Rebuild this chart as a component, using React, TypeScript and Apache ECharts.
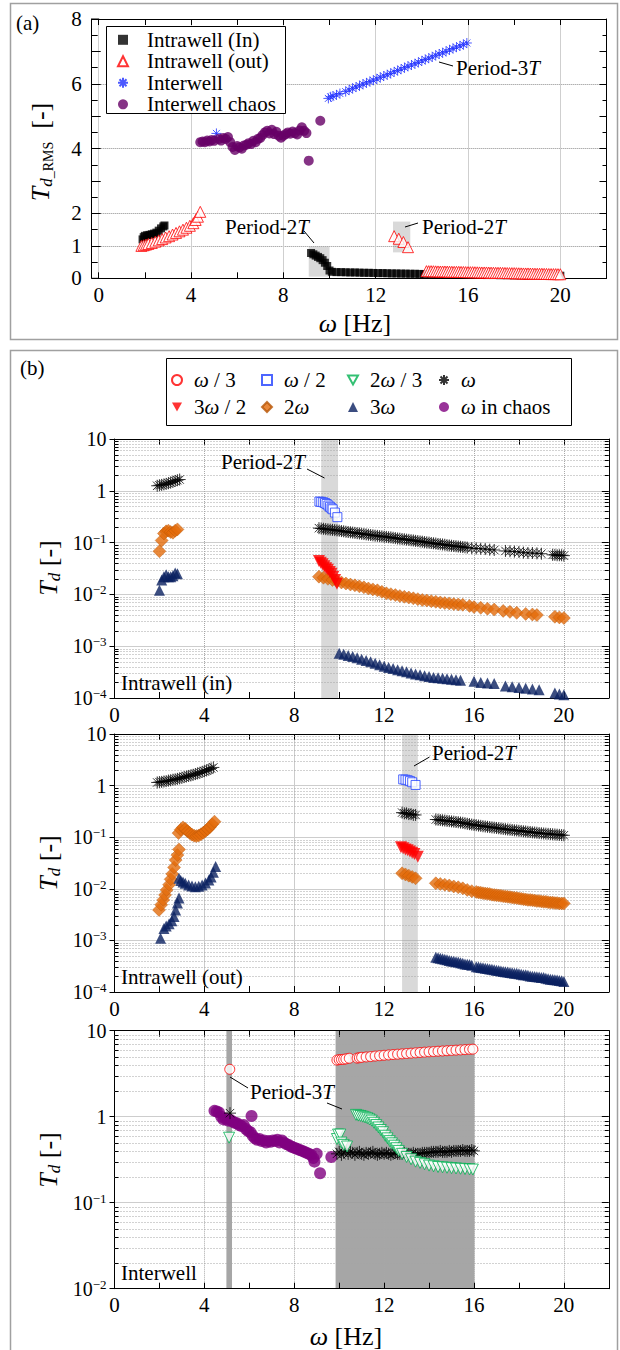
import React, { useEffect, useRef } from "react";
import * as echarts from "echarts";

const FONT = "Liberation Serif, Times New Roman, serif";

// ---------------- Panel (a): T_d_RMS vs ω ----------------
const aIntrawellIn: number[][] = [
  [1.9, 1.2], [1.95, 1.27], [2.0, 1.31], [2.1, 1.33], [2.2, 1.34], [2.3, 1.36], [2.4, 1.38], [2.5, 1.41],
  [2.6, 1.47], [2.7, 1.54], [2.8, 1.6], [2.85, 1.63],
  [9.2, 0.78], [9.3, 0.74], [9.4, 0.7], [9.5, 0.66], [9.6, 0.62], [9.7, 0.56], [9.8, 0.48], [9.9, 0.38],
  [10.0, 0.24], [10.1, 0.2], [10.3, 0.19], [10.5, 0.19], [10.7, 0.185], [10.9, 0.18], [11.1, 0.18],
  [11.3, 0.175], [11.5, 0.17], [11.7, 0.17], [11.9, 0.165], [12.1, 0.16], [12.3, 0.16], [12.5, 0.155],
  [12.7, 0.15], [12.9, 0.15], [13.1, 0.145], [13.3, 0.145], [13.5, 0.14], [13.7, 0.14], [13.9, 0.135],
  [14.1, 0.13], [14.4, 0.13], [14.7, 0.125], [15.0, 0.12], [15.3, 0.12], [15.6, 0.115], [15.9, 0.11],
  [16.2, 0.11], [16.5, 0.105], [16.8, 0.1], [17.1, 0.1], [17.4, 0.095], [17.7, 0.095], [18.0, 0.09],
  [18.3, 0.09], [18.6, 0.088], [18.9, 0.085], [19.2, 0.085], [19.5, 0.082], [19.8, 0.08], [20.0, 0.08],
];
const aIntrawellOut: number[][] = [
  [1.85, 1.0], [1.95, 1.02], [2.05, 1.04], [2.15, 1.06], [2.3, 1.09], [2.45, 1.13], [2.6, 1.17], [2.75, 1.21],
  [2.9, 1.26], [3.05, 1.3], [3.2, 1.35], [3.35, 1.4], [3.5, 1.45], [3.65, 1.5], [3.8, 1.56], [3.95, 1.62],
  [4.1, 1.7], [4.2, 1.8], [4.3, 1.9], [4.4, 2.05],
  [12.8, 1.3], [13.0, 1.22], [13.2, 1.12], [13.4, 0.96],
  [14.2, 0.22], [14.3, 0.22], [14.4, 0.22], [14.5, 0.218], [14.6, 0.215], [14.7, 0.212], [14.8, 0.21],
  [14.9, 0.21], [15.0, 0.21], [15.1, 0.207], [15.2, 0.205], [15.3, 0.202], [15.4, 0.2], [15.5, 0.2],
  [15.6, 0.2], [15.7, 0.197], [15.8, 0.195], [15.9, 0.192], [16.0, 0.19], [16.1, 0.19], [16.2, 0.19],
  [16.3, 0.187], [16.4, 0.185], [16.5, 0.182], [16.6, 0.18], [16.7, 0.18], [16.8, 0.18], [16.9, 0.177],
  [17.0, 0.175], [17.1, 0.172], [17.2, 0.17], [17.3, 0.17], [17.4, 0.17], [17.5, 0.167], [17.6, 0.165],
  [17.7, 0.162], [17.8, 0.16], [17.9, 0.16], [18.0, 0.16], [18.1, 0.157], [18.2, 0.155], [18.3, 0.152],
  [18.4, 0.15], [18.5, 0.15], [18.6, 0.15], [18.7, 0.147], [18.8, 0.145], [18.9, 0.142], [19.0, 0.14],
  [19.1, 0.14], [19.2, 0.14], [19.3, 0.137], [19.4, 0.135], [19.5, 0.132], [19.6, 0.13], [19.7, 0.13],
  [19.8, 0.13], [19.9, 0.127], [20.0, 0.125],
];
const aInterwell: number[][] = [
  [5.1, 4.47],
  [9.95, 5.55], [10.05, 5.6], [10.15, 5.62], [10.3, 5.66], [10.45, 5.7], [10.7, 5.76], [10.85, 5.81],
  [11.0, 5.86], [11.15, 5.9], [11.3, 5.94], [11.45, 5.99], [11.6, 6.03], [11.75, 6.07], [11.9, 6.11],
  [12.05, 6.15], [12.2, 6.2], [12.35, 6.24], [12.5, 6.28], [12.65, 6.32], [12.8, 6.37], [12.95, 6.41],
  [13.1, 6.45], [13.25, 6.5], [13.4, 6.54], [13.55, 6.58], [13.7, 6.62], [13.85, 6.66], [14.0, 6.71],
  [14.15, 6.75], [14.3, 6.79], [14.45, 6.83], [14.6, 6.88], [14.75, 6.92], [14.9, 6.96], [15.05, 7.0],
  [15.2, 7.05], [15.35, 7.09], [15.5, 7.13], [15.65, 7.17], [15.8, 7.21], [15.95, 7.26],
];
const aInterwellChaos: number[][] = [
  [4.4, 4.2], [4.5, 4.22], [4.6, 4.2], [4.7, 4.25], [4.8, 4.22], [4.9, 4.27], [5.0, 4.24], [5.2, 4.3],
  [5.3, 4.25], [5.4, 4.33], [5.5, 4.3], [5.6, 4.36], [5.7, 4.2], [5.8, 4.05], [5.9, 3.96], [6.0, 4.08],
  [6.1, 4.04], [6.2, 4.0], [6.3, 4.1], [6.4, 4.12], [6.5, 4.17], [6.6, 4.14], [6.7, 4.24], [6.8, 4.2],
  [6.9, 4.3], [7.0, 4.33], [7.1, 4.42], [7.2, 4.5], [7.3, 4.55], [7.4, 4.47], [7.5, 4.58], [7.6, 4.45],
  [7.7, 4.52], [7.8, 4.4], [7.9, 4.34], [8.0, 4.4], [8.1, 4.45], [8.2, 4.5], [8.3, 4.46], [8.4, 4.53],
  [8.5, 4.48], [8.6, 4.44], [8.7, 4.56], [8.8, 4.66], [8.9, 4.55], [9.0, 4.48], [9.1, 3.63], [9.6, 4.86],
];
// shaded windows [ω0, ω1, T0, T1]
const aShade: number[][] = [[9.1, 10.0, 0.05, 0.98], [12.75, 13.5, 0.8, 1.75]];

// ---------------- Panel (b1): Intrawell (in) ----------------
const b1Omega: number[][] = [
  [1.9, 1.25], [2.0, 1.28], [2.1, 1.3], [2.2, 1.33], [2.3, 1.36], [2.4, 1.4], [2.5, 1.44], [2.6, 1.5],
  [2.7, 1.55], [2.8, 1.6], [2.9, 1.65],
  [9.1, 0.19], [9.2, 0.187], [9.3, 0.185], [9.4, 0.182], [9.5, 0.18], [9.6, 0.178], [9.7, 0.176], [9.8, 0.174],
  [9.9, 0.172], [10.0, 0.17], [10.1, 0.167], [10.2, 0.165], [10.3, 0.162], [10.4, 0.16], [10.5, 0.158],
  [10.6, 0.156], [10.7, 0.154], [10.8, 0.152], [10.9, 0.15], [11.0, 0.148], [11.1, 0.146], [11.2, 0.144],
  [11.3, 0.142], [11.4, 0.14], [11.5, 0.138], [11.6, 0.136], [11.7, 0.135], [11.8, 0.133], [11.9, 0.132],
  [12.0, 0.13], [12.1, 0.129], [12.2, 0.127], [12.3, 0.126], [12.4, 0.124], [12.5, 0.122], [12.6, 0.12],
  [12.7, 0.119], [12.8, 0.117], [12.9, 0.116], [13.0, 0.114], [13.1, 0.113], [13.2, 0.111], [13.3, 0.11],
  [13.4, 0.108], [13.5, 0.107], [13.6, 0.105], [13.7, 0.104], [13.8, 0.102], [13.9, 0.101], [14.0, 0.1],
  [14.1, 0.098], [14.2, 0.097], [14.3, 0.096], [14.4, 0.094], [14.5, 0.093], [14.6, 0.092], [14.7, 0.091],
  [14.8, 0.089], [14.9, 0.088], [15.0, 0.087], [15.1, 0.086], [15.2, 0.085], [15.3, 0.084], [15.4, 0.083],
  [15.5, 0.082], [15.6, 0.081], [15.7, 0.08], [15.9, 0.078], [16.1, 0.077], [16.3, 0.076], [16.5, 0.075],
  [16.7, 0.073], [16.9, 0.072], [17.4, 0.069], [17.6, 0.068], [17.8, 0.067], [18.0, 0.066], [18.2, 0.064],
  [18.4, 0.063], [18.6, 0.063], [18.8, 0.062], [19.0, 0.061], [19.5, 0.058], [19.6, 0.058], [19.7, 0.057],
  [19.8, 0.057], [19.9, 0.057], [20.0, 0.056],
];
const b1Half: number[][] = [
  [9.12, 0.62], [9.2, 0.61], [9.29, 0.6], [9.37, 0.58], [9.44, 0.556], [9.52, 0.52], [9.59, 0.49],
  [9.66, 0.46], [9.71, 0.44], [9.81, 0.38], [9.92, 0.31],
];
const b1ThreeHalf: number[][] = [
  [9.1, 0.044], [9.18, 0.041], [9.26, 0.038], [9.34, 0.035], [9.42, 0.032], [9.5, 0.03], [9.58, 0.027],
  [9.66, 0.025], [9.74, 0.022], [9.82, 0.019], [9.9, 0.016],
];
const b1Two: number[][] = [
  [2.0, 0.068], [2.1, 0.11], [2.2, 0.15], [2.3, 0.165], [2.4, 0.17], [2.5, 0.16], [2.6, 0.155], [2.7, 0.17], [2.8, 0.18],
  [9.1, 0.022], [9.3, 0.021], [9.5, 0.02], [9.7, 0.019], [9.9, 0.018], [10.1, 0.017], [10.3, 0.0162],
  [10.5, 0.0155], [10.7, 0.015], [10.9, 0.0143], [11.1, 0.0137], [11.3, 0.013], [11.5, 0.0125], [11.7, 0.012],
  [11.9, 0.0112], [12.1, 0.0105], [12.3, 0.0101], [12.5, 0.0097], [12.7, 0.0093], [12.9, 0.009], [13.1, 0.0087],
  [13.3, 0.0084], [13.5, 0.0081], [13.7, 0.0078], [13.9, 0.0076], [14.1, 0.0074], [14.3, 0.0072], [14.5, 0.007],
  [14.7, 0.0068], [14.9, 0.0067], [15.1, 0.0065], [15.3, 0.0064], [15.5, 0.0063], [15.8, 0.006], [16.0, 0.0057],
  [16.3, 0.0055], [16.6, 0.0053], [16.9, 0.0051], [17.3, 0.0048], [17.6, 0.0046], [17.9, 0.0044], [18.3, 0.0042],
  [18.6, 0.0041], [18.8, 0.004], [19.6, 0.0037], [19.8, 0.0036], [20.0, 0.0035],
];
const b1Three: number[][] = [
  [2.0, 0.012], [2.1, 0.019], [2.2, 0.022], [2.3, 0.024], [2.4, 0.022], [2.5, 0.022], [2.6, 0.023], [2.7, 0.026], [2.8, 0.025],
  [10.0, 7.3e-4], [10.2, 7.0e-4], [10.4, 6.6e-4], [10.6, 6.3e-4], [10.8, 6.0e-4], [11.0, 5.6e-4], [11.2, 5.3e-4],
  [11.4, 5.0e-4], [11.6, 4.7e-4], [11.8, 4.4e-4], [12.0, 4.1e-4], [12.2, 3.9e-4], [12.4, 3.7e-4], [12.6, 3.5e-4],
  [12.8, 3.35e-4], [13.0, 3.2e-4], [13.2, 3.05e-4], [13.4, 2.9e-4], [13.6, 2.8e-4], [13.8, 2.7e-4], [14.0, 2.6e-4],
  [14.2, 2.5e-4], [14.4, 2.45e-4], [14.6, 2.4e-4], [14.8, 2.35e-4], [15.0, 2.3e-4], [15.2, 2.25e-4], [15.4, 2.2e-4],
  [16.0, 2.1e-4], [16.3, 2.0e-4], [16.6, 1.95e-4], [16.9, 1.9e-4], [17.4, 1.7e-4], [17.7, 1.65e-4], [18.0, 1.6e-4],
  [18.3, 1.55e-4], [18.6, 1.5e-4], [18.9, 1.45e-4], [19.6, 1.25e-4], [19.8, 1.2e-4], [20.0, 1.15e-4],
];
const b1Shade: number[][] = [[9.2, 9.95, 1e-4, 10]];

// ---------------- Panel (b2): Intrawell (out) ----------------
const b2Omega: number[][] = [
  [1.9, 1.15], [2.0, 1.17], [2.1, 1.18], [2.2, 1.2], [2.3, 1.22], [2.4, 1.25], [2.5, 1.27], [2.6, 1.3],
  [2.7, 1.32], [2.8, 1.35], [2.9, 1.38], [3.0, 1.42], [3.1, 1.46], [3.2, 1.5], [3.3, 1.54], [3.4, 1.58],
  [3.5, 1.62], [3.6, 1.67], [3.7, 1.72], [3.8, 1.78], [3.9, 1.84], [4.0, 1.9], [4.1, 1.97], [4.2, 2.05],
  [4.3, 2.15], [4.4, 2.25],
  [12.8, 0.3], [12.9, 0.29], [13.0, 0.29], [13.1, 0.28], [13.2, 0.28], [13.3, 0.27], [13.4, 0.27],
  [14.3, 0.22], [14.4, 0.218], [14.5, 0.215], [14.6, 0.212], [14.7, 0.21], [14.8, 0.207], [14.9, 0.205],
  [15.0, 0.202], [15.1, 0.2], [15.2, 0.197], [15.3, 0.195], [15.4, 0.192], [15.5, 0.19], [15.6, 0.186],
  [15.7, 0.182], [15.8, 0.179], [15.9, 0.176], [16.0, 0.173], [16.1, 0.171], [16.2, 0.168], [16.3, 0.166],
  [16.4, 0.163], [16.5, 0.161], [16.6, 0.159], [16.7, 0.157], [16.8, 0.155], [16.9, 0.153], [17.0, 0.151],
  [17.1, 0.149], [17.2, 0.147], [17.3, 0.145], [17.4, 0.143], [17.5, 0.141], [17.6, 0.14], [17.7, 0.138],
  [17.8, 0.136], [17.9, 0.135], [18.0, 0.133], [18.1, 0.132], [18.2, 0.13], [18.3, 0.129], [18.4, 0.127],
  [18.5, 0.126], [18.6, 0.124], [18.7, 0.123], [18.8, 0.122], [18.9, 0.12], [19.0, 0.119], [19.1, 0.118],
  [19.2, 0.117], [19.3, 0.116], [19.4, 0.115], [19.5, 0.114], [19.6, 0.113], [19.7, 0.112], [19.8, 0.111],
  [19.9, 0.11], [20.0, 0.109],
];
const b2Half: number[][] = [[12.85, 1.32], [12.95, 1.3], [13.05, 1.27], [13.15, 1.22], [13.25, 1.16], [13.4, 1.03]];
const b2ThreeHalf: number[][] = [
  [12.75, 0.064], [12.85, 0.061], [12.95, 0.058], [13.05, 0.056], [13.15, 0.053], [13.25, 0.05], [13.35, 0.047], [13.5, 0.042],
];
const b2Two: number[][] = [
  [1.98, 0.0039], [2.08, 0.0049], [2.17, 0.0061], [2.25, 0.0076], [2.32, 0.0095], [2.43, 0.012], [2.5, 0.0153],
  [2.57, 0.0194], [2.65, 0.026], [2.72, 0.036], [2.8, 0.045], [2.87, 0.058],
  [2.85, 0.12], [2.95, 0.14], [3.05, 0.155], [3.15, 0.145], [3.25, 0.13], [3.35, 0.12], [3.45, 0.112], [3.55, 0.107],
  [3.65, 0.105], [3.75, 0.108], [3.85, 0.114], [3.95, 0.122], [4.05, 0.132], [4.15, 0.143], [4.25, 0.158],
  [4.35, 0.178], [4.45, 0.2],
  [12.8, 0.02], [12.95, 0.019], [13.1, 0.018], [13.25, 0.017], [13.4, 0.016],
  [14.3, 0.0128], [14.5, 0.0124], [14.7, 0.012], [14.9, 0.0116], [15.1, 0.0111], [15.3, 0.0107], [15.5, 0.0102],
  [15.7, 0.0095], [15.9, 0.009], [16.1, 0.0087], [16.2, 0.0085], [16.3, 0.0084], [16.4, 0.0082], [16.5, 0.0081],
  [16.6, 0.008], [16.7, 0.0079], [16.8, 0.0077], [16.9, 0.0076], [17.0, 0.0075], [17.1, 0.0074], [17.2, 0.0073],
  [17.3, 0.0072], [17.4, 0.0071], [17.5, 0.007], [17.6, 0.0069], [17.7, 0.0068], [17.8, 0.0067], [17.9, 0.0066],
  [18.0, 0.0065], [18.1, 0.0064], [18.2, 0.0063], [18.3, 0.0062], [18.4, 0.0061], [18.5, 0.0061], [18.6, 0.006],
  [18.7, 0.0059], [18.8, 0.0058], [18.9, 0.0058], [19.0, 0.0057], [19.1, 0.0056], [19.2, 0.0056], [19.3, 0.0055],
  [19.4, 0.0054], [19.5, 0.0054], [19.6, 0.0053], [19.7, 0.0053], [19.8, 0.0052], [19.9, 0.0052], [20.0, 0.0052],
];
const b2Three: number[][] = [
  [2.05, 0.0011], [2.2, 0.0017], [2.3, 0.0019], [2.43, 0.0021], [2.55, 0.0024], [2.65, 0.0029], [2.72, 0.0039],
  [2.8, 0.0053], [2.87, 0.0066],
  [2.87, 0.016], [2.95, 0.0145], [3.05, 0.0135], [3.15, 0.0128], [3.3, 0.0118], [3.45, 0.0113], [3.6, 0.011],
  [3.75, 0.0112], [3.9, 0.0118], [4.05, 0.013], [4.2, 0.0148], [4.3, 0.017], [4.4, 0.021], [4.5, 0.027],
  [14.3, 4.7e-4], [14.4, 4.6e-4], [14.5, 4.5e-4], [14.6, 4.4e-4], [14.7, 4.3e-4], [14.8, 4.2e-4], [14.9, 4.1e-4],
  [15.0, 4.0e-4], [15.1, 3.95e-4], [15.2, 3.85e-4], [15.3, 3.8e-4], [15.4, 3.7e-4], [15.5, 3.6e-4], [15.6, 3.5e-4],
  [15.7, 3.45e-4], [15.8, 3.4e-4], [15.9, 3.3e-4], [16.1, 3.1e-4], [16.2, 3.05e-4], [16.3, 3.0e-4], [16.4, 2.95e-4],
  [16.5, 2.9e-4], [16.6, 2.85e-4], [16.7, 2.8e-4], [16.8, 2.75e-4], [16.9, 2.7e-4], [17.0, 2.65e-4], [17.1, 2.6e-4],
  [17.2, 2.55e-4], [17.3, 2.5e-4], [17.4, 2.47e-4], [17.5, 2.45e-4], [17.6, 2.4e-4], [17.7, 2.35e-4], [17.8, 2.32e-4],
  [17.9, 2.3e-4], [18.0, 2.25e-4], [18.1, 2.2e-4], [18.2, 2.17e-4], [18.3, 2.15e-4], [18.4, 2.1e-4], [18.5, 2.05e-4],
  [18.6, 2.02e-4], [18.7, 2.0e-4], [18.8, 1.97e-4], [18.9, 1.95e-4], [19.0, 1.92e-4], [19.1, 1.9e-4], [19.2, 1.85e-4],
  [19.3, 1.8e-4], [19.4, 1.77e-4], [19.5, 1.75e-4], [19.6, 1.72e-4], [19.7, 1.7e-4], [19.8, 1.67e-4], [19.9, 1.65e-4],
  [20.0, 1.6e-4],
];
const b2Shade: number[][] = [[12.8, 13.5, 1e-4, 10]];

// ---------------- Panel (b3): Interwell ----------------
const b3Third: number[][] = [
  [5.13, 3.56],
  [9.9, 4.55], [10.0, 4.6], [10.1, 4.62], [10.2, 4.65], [10.3, 4.7], [10.45, 4.78], [10.8, 4.8], [10.9, 4.85],
  [11.0, 4.9], [11.2, 4.95], [11.4, 5.0], [11.6, 5.07], [11.8, 5.12], [12.0, 5.18], [12.2, 5.23], [12.4, 5.28],
  [12.6, 5.33], [12.8, 5.38], [13.0, 5.43], [13.2, 5.48], [13.4, 5.53], [13.6, 5.58], [13.8, 5.63], [14.0, 5.68],
  [14.2, 5.72], [14.4, 5.77], [14.6, 5.81], [14.8, 5.85], [15.0, 5.9], [15.2, 5.94], [15.4, 5.98], [15.6, 6.02],
  [15.8, 6.07], [15.95, 6.1],
];
const b3TwoThird: number[][] = [
  [5.1, 0.57], [9.9, 0.55], [9.95, 0.62], [10.05, 0.62], [10.1, 0.5], [10.2, 0.47], [10.35, 0.45],
  [10.75, 1.05], [10.85, 1.03], [10.95, 1.02], [11.05, 1.0], [11.15, 0.98], [11.25, 0.96], [11.35, 0.93],
  [11.45, 0.9], [11.55, 0.85], [11.65, 0.8], [11.75, 0.75], [11.85, 0.7], [11.95, 0.66], [12.05, 0.6],
  [12.15, 0.56], [12.25, 0.52], [12.35, 0.49], [12.45, 0.46], [12.55, 0.43], [12.65, 0.4], [12.8, 0.37],
  [13.0, 0.34], [13.2, 0.32], [13.4, 0.3], [13.6, 0.29], [13.8, 0.28], [14.0, 0.27], [14.2, 0.265], [14.4, 0.26],
  [14.6, 0.258], [14.8, 0.255], [15.0, 0.252], [15.2, 0.25], [15.4, 0.248], [15.6, 0.246], [15.8, 0.244], [15.95, 0.243],
];
const b3Omega: number[][] = [
  [5.14, 1.1],
  [9.9, 0.37], [10.0, 0.39], [10.1, 0.36], [10.2, 0.38], [10.3, 0.4], [10.4, 0.37], [10.5, 0.39], [10.6, 0.38],
  [10.7, 0.36], [10.8, 0.38], [10.9, 0.39], [11.0, 0.37], [11.1, 0.36], [11.2, 0.38], [11.3, 0.37], [11.4, 0.38],
  [11.5, 0.39], [11.6, 0.37], [11.7, 0.36], [11.8, 0.37], [11.9, 0.38], [12.0, 0.37], [12.1, 0.38], [12.2, 0.37],
  [12.3, 0.36], [12.4, 0.37], [12.5, 0.38], [12.6, 0.37], [12.7, 0.37], [12.8, 0.37], [12.9, 0.38], [13.0, 0.37],
  [13.1, 0.37], [13.2, 0.37], [13.3, 0.38], [13.4, 0.37], [13.5, 0.37], [13.6, 0.37], [13.7, 0.38], [13.8, 0.38],
  [13.9, 0.38], [14.0, 0.38], [14.1, 0.39], [14.2, 0.39], [14.3, 0.39], [14.4, 0.39], [14.5, 0.4], [14.6, 0.39],
  [14.7, 0.39], [14.8, 0.39], [14.9, 0.4], [15.0, 0.39], [15.1, 0.4], [15.2, 0.4], [15.3, 0.4], [15.4, 0.4],
  [15.5, 0.41], [15.6, 0.4], [15.7, 0.4], [15.8, 0.4], [15.9, 0.41], [16.0, 0.4],
];
const b3Chaos: number[][] = [
  [4.45, 1.17], [4.55, 1.15], [4.65, 1.12], [4.75, 1.0], [4.85, 0.93], [4.95, 0.95], [5.05, 0.9], [5.15, 0.92],
  [5.25, 0.88], [5.35, 0.85], [5.45, 0.84], [5.55, 0.8], [5.65, 0.78], [5.75, 0.8], [5.85, 0.72], [5.95, 0.68],
  [6.05, 0.66], [6.1, 1.02], [6.15, 0.6], [6.25, 0.56], [6.35, 0.54], [6.45, 0.55], [6.55, 0.52], [6.65, 0.53],
  [6.75, 0.5], [6.85, 0.52], [6.95, 0.51], [7.05, 0.53], [7.15, 0.52], [7.25, 0.54], [7.35, 0.5], [7.45, 0.53],
  [7.55, 0.5], [7.65, 0.48], [7.75, 0.47], [7.85, 0.45], [7.95, 0.44], [8.05, 0.43], [8.15, 0.42], [8.25, 0.41],
  [8.35, 0.4], [8.45, 0.39], [8.55, 0.38], [8.65, 0.37], [8.75, 0.36], [8.85, 0.33], [8.9, 0.3], [9.0, 0.37],
  [9.15, 0.22], [9.65, 0.34],
];
const b3Shade: number[][] = [[4.98, 5.23, 0.01, 10], [9.84, 16.02, 0.01, 10]];

// ---------------- ticks ----------------
const xTickLabels = [0, 4, 8, 12, 16, 20];
const aYTickLabels = [0, 1, 2, 4, 6, 8];
const aYGridValues = [1, 2, 4, 6];

// ---------------- styling helpers ----------------
const ASTER = "path://M5 0L5 10M0 5L10 5M1.5 1.5L8.5 8.5M1.5 8.5L8.5 1.5";
const DOWN_TRI = "path://M0 0L10 0L5 9Z";

const SYM: Record<string, any> = {
  "Intrawell (In)": { symbol: "rect", symbolSize: 8, itemStyle: { color: "#000" } },
  "Intrawell (out)": { symbol: "triangle", symbolSize: 11, itemStyle: { color: "#fff", borderColor: "#ff0000", borderWidth: 1 } },
  Interwell: { symbol: ASTER, symbolSize: 10, itemStyle: { color: "rgba(0,0,0,0)", borderColor: "#1f2fff", borderWidth: 1 } },
  "Interwell chaos": { symbol: "circle", symbolSize: 10, itemStyle: { color: "#660066" } },
  "ω/3": { symbol: "circle", symbolSize: 10, itemStyle: { color: "#fff", borderColor: "#ff0000", borderWidth: 1 } },
  "ω/2": { symbol: "rect", symbolSize: 9, itemStyle: { color: "#fff", borderColor: "#2040ff", borderWidth: 1 } },
  "2ω/3": { symbol: "triangle", symbolRotate: 180, symbolSize: 11, itemStyle: { color: "#fff", borderColor: "#00b050", borderWidth: 1 } },
  "ω": { symbol: ASTER, symbolSize: 12, itemStyle: { color: "rgba(0,0,0,0)", borderColor: "#000", borderWidth: 1 } },
  "3ω/2": { symbol: "triangle", symbolRotate: 180, symbolSize: 12, itemStyle: { color: "#ff0000" } },
  "2ω": { symbol: "diamond", symbolSize: 13, itemStyle: { color: "#e46c0a", borderColor: "#b65608", borderWidth: 0.5 } },
  "3ω": { symbol: "triangle", symbolSize: 11, itemStyle: { color: "#0a2060" } },
  "ω in chaos": { symbol: "circle", symbolSize: 12, itemStyle: { color: "#800080" } },
};

const LEGEND_B_LABEL: Record<string, string> = {
  "ω/3": "{i|ω} / 3",
  "ω/2": "{i|ω} / 2",
  "2ω/3": "2{i|ω} / 3",
  "ω": "{i|ω}",
  "3ω/2": "3{i|ω} / 2",
  "2ω": "2{i|ω}",
  "3ω": "3{i|ω}",
  "ω in chaos": "{i|ω} in chaos",
};

function logLabel(v: number): string {
  const e = Math.round(Math.log10(v));
  if (e === 1) return "{b|10}";
  if (e === 0) return "{b|1}";
  return "{b|10}{e|\u2212" + Math.abs(e) + "}";
}

function minorValues(minExp: number, maxExp: number): number[][] {
  const out: number[][] = [];
  for (let e = minExp; e < maxExp; e++) for (let k = 2; k <= 9; k++) out.push([0, k * Math.pow(10, e)]);
  return out;
}

const BLACK = { color: "#000", width: 1 };

function xAxisCfg(grid: number, top: boolean, splitColor: string, splitType: string) {
  return {
    type: "value", gridIndex: grid, position: top ? "top" : "bottom", min: 0, max: 22, interval: 2, z: 1.5,
    axisLine: { show: true, onZero: false, lineStyle: BLACK },
    axisTick: { show: true, inside: true, length: 6, lineStyle: BLACK },
    minorTick: { show: false },
    axisLabel: top
      ? { show: false }
      : {
          show: true, margin: 6, fontFamily: FONT, fontSize: 21, color: "#000",
          formatter: (v: number) => (xTickLabels.indexOf(Math.round(v)) >= 0 && Math.abs(v - Math.round(v)) < 1e-6 ? String(Math.round(v)) : ""),
        },
    splitLine: top ? { show: false } : { show: true, lineStyle: { color: [splitColor, "rgba(0,0,0,0)"], type: splitType, width: 1 } },
  };
}

function yLogCfg(grid: number, right: boolean, min: number, splitNumber: number) {
  return {
    type: "log", logBase: 10, gridIndex: grid, position: right ? "right" : "left", min, max: 10, splitNumber, z: 1.5,
    axisLine: { show: true, onZero: false, lineStyle: BLACK },
    axisTick: { show: true, inside: right, length: right ? 7 : 5, lineStyle: BLACK },
    minorTick: { show: false },
    axisLabel: right
      ? { show: false }
      : {
          show: true, margin: 8, formatter: logLabel, color: "#000", fontFamily: FONT,
          rich: {
            b: { fontFamily: FONT, fontSize: 20, lineHeight: 22, color: "#000" },
            e: { fontFamily: FONT, fontSize: 13, lineHeight: 12, verticalAlign: "top", color: "#000" },
          },
        },
    splitLine: right ? { show: false } : { show: true, lineStyle: { color: "#9a9a9a", type: "dotted", width: 1 } },
  };
}

function yACfg(right: boolean) {
  const g = "#8c8c8c";
  const t = "rgba(0,0,0,0)";
  const colors = [0, 1, 2, 3, 4, 5, 6, 7, 8].map((v) => (aYGridValues.indexOf(v) >= 0 ? g : t));
  return {
    type: "value", gridIndex: 0, position: right ? "right" : "left", offset: right ? 0 : 7,
    min: 0, max: 8, interval: 1, z: 1.5,
    axisLine: { show: true, onZero: false, lineStyle: BLACK },
    axisTick: { show: true, inside: true, length: right ? 7 : 9, lineStyle: BLACK },
    minorTick: { show: true, splitNumber: 2, length: right ? 4 : 6, lineStyle: BLACK },
    axisLabel: right
      ? { show: false }
      : {
          show: true, margin: 10, fontFamily: FONT, fontSize: 21, color: "#000",
          formatter: (v: number) => (aYTickLabels.indexOf(v) >= 0 ? String(v) : ""),
        },
    splitLine: right ? { show: false } : { show: true, lineStyle: { color: colors, type: "dotted", width: 1 } },
  };
}

const shadeRender = (color: string) => (params: any, api: any) => {
  const p0 = api.coord([api.value(0), api.value(3)]);
  const p1 = api.coord([api.value(1), api.value(2)]);
  return {
    type: "rect",
    shape: { x: p0[0], y: p0[1], width: p1[0] - p0[0], height: p1[1] - p0[1] },
    style: { fill: color },
  };
};

const minorRender = (params: any, api: any) => {
  const v = api.value(1);
  const a = api.coord([0, v]);
  const b = api.coord([22, v]);
  const y = Math.round(a[1]) + 0.5;
  return {
    type: "group",
    children: [
      { type: "line", shape: { x1: a[0], y1: y, x2: b[0], y2: y }, style: { stroke: "#a5a5a5", lineWidth: 1, lineDash: [1, 2] } },
      { type: "line", shape: { x1: a[0], y1: y, x2: a[0] + 4, y2: y }, style: { stroke: "#000", lineWidth: 1 } },
      { type: "line", shape: { x1: b[0] - 4, y1: y, x2: b[0], y2: y }, style: { stroke: "#000", lineWidth: 1 } },
    ],
  };
};

function shadeSeries(g: number, data: number[][], color: string) {
  return {
    type: "custom", xAxisIndex: 2 * g, yAxisIndex: 2 * g, data, renderItem: shadeRender(color),
    encode: { x: [0, 1], y: [2, 3] }, z: 1, silent: true, clip: false,
  };
}
function minorSeries(g: number, minExp: number, maxExp: number) {
  return {
    type: "custom", xAxisIndex: 2 * g, yAxisIndex: 2 * g, data: minorValues(minExp, maxExp), renderItem: minorRender,
    encode: { x: 0, y: 1 }, z: 1.6, silent: true, clip: false,
  };
}
function sc(g: number, name: string, data: number[][]) {
  return { type: "scatter", name, xAxisIndex: 2 * g, yAxisIndex: 2 * g, data, z: 2, silent: true, ...SYM[name] };
}

// ---------------- graphic helpers ----------------
function txt(x: number, y: number, text: string, size = 21, extra: any = {}) {
  return {
    type: "text", x, y, silent: true, z: 10,
    style: {
      text, fontFamily: FONT, fontSize: size, fill: "#000",
      align: "left", verticalAlign: "middle", textAlign: "left", textVerticalAlign: "middle",
      rich: { i: { fontStyle: "italic", fontFamily: FONT, fontSize: size, fill: "#000", color: "#000" } },
      ...extra,
    },
  };
}
function ln(x1: number, y1: number, x2: number, y2: number, color = "#000", w = 1) {
  return { type: "line", silent: true, z: 10, shape: { x1, y1, x2, y2 }, style: { stroke: color, lineWidth: w } };
}
function yTitle(x: number, y: number, text: string, rich: any) {
  return {
    type: "text", x, y, rotation: Math.PI / 2, silent: true, z: 10,
    style: {
      text, fontFamily: FONT, fontSize: 26, fill: "#000",
      align: "center", verticalAlign: "middle", textAlign: "center", textVerticalAlign: "middle", rich,
    },
  };
}
const TITLE_RICH_B = {
  t: { fontFamily: FONT, fontSize: 26, fontStyle: "italic", lineHeight: 30 },
  s: { fontFamily: FONT, fontSize: 17, fontStyle: "italic", lineHeight: 14, verticalAlign: "bottom" },
  n: { fontFamily: FONT, fontSize: 26, lineHeight: 30 },
};
const TITLE_RICH_A = {
  ...TITLE_RICH_B,
  r: { fontFamily: FONT, fontSize: 14, lineHeight: 14, verticalAlign: "bottom" },
};

function buildOption() {
  const grids = [
    { left: 98.7, top: 19, width: 507.8, height: 259.3 },
    { left: 114.5, top: 439, width: 494.3, height: 259 },
    { left: 114.5, top: 734, width: 494.3, height: 258 },
    { left: 114.5, top: 1030.7, width: 494.3, height: 258 },
  ].map((g) => ({ ...g, containLabel: false, outerBoundsMode: "none", show: false }));

  const xAxis = [
    xAxisCfg(0, false, "#cfcfcf", "solid"), xAxisCfg(0, true, "#cfcfcf", "solid"),
    xAxisCfg(1, false, "#a8a8a8", "dotted"), xAxisCfg(1, true, "#a8a8a8", "dotted"),
    xAxisCfg(2, false, "#cccccc", "solid"), xAxisCfg(2, true, "#cccccc", "solid"),
    xAxisCfg(3, false, "#a8a8a8", "dotted"), xAxisCfg(3, true, "#a8a8a8", "dotted"),
  ];
  const yAxis = [
    yACfg(false), yACfg(true),
    yLogCfg(1, false, 1e-4, 5), yLogCfg(1, true, 1e-4, 5),
    yLogCfg(2, false, 1e-4, 5), yLogCfg(2, true, 1e-4, 5),
    yLogCfg(3, false, 1e-2, 3), yLogCfg(3, true, 1e-2, 3),
  ];

  const series: any[] = [
    // (a)
    shadeSeries(0, aShade, "#d9d9d9"),
    sc(0, "Intrawell (In)", aIntrawellIn),
    sc(0, "Intrawell (out)", aIntrawellOut),
    sc(0, "Interwell", aInterwell),
    sc(0, "Interwell chaos", aInterwellChaos),
    // (b1)
    shadeSeries(1, b1Shade, "#d9d9d9"),
    minorSeries(1, -4, 1),
    sc(1, "2ω", b1Two),
    sc(1, "3ω", b1Three),
    sc(1, "ω", b1Omega),
    sc(1, "ω/2", b1Half),
    sc(1, "3ω/2", b1ThreeHalf),
    // (b2)
    shadeSeries(2, b2Shade, "#d9d9d9"),
    minorSeries(2, -4, 1),
    sc(2, "2ω", b2Two),
    sc(2, "3ω", b2Three),
    sc(2, "ω", b2Omega),
    sc(2, "ω/2", b2Half),
    sc(2, "3ω/2", b2ThreeHalf),
    // (b3)
    shadeSeries(3, b3Shade, "#a6a6a6"),
    minorSeries(3, -2, 1),
    sc(3, "ω in chaos", b3Chaos),
    sc(3, "ω", b3Omega),
    sc(3, "2ω/3", b3TwoThird),
    sc(3, "ω/3", b3Third),
  ];

  const legendText = { fontFamily: FONT, fontSize: 21, color: "#000", lineHeight: 20 };
  const legendA = {
    orient: "vertical", left: 117, top: 29.3, padding: 0, itemGap: 0.5, itemWidth: 10, itemHeight: 10,
    symbolKeepAspect: true, selectedMode: false, z: 20,
    textStyle: { ...legendText, padding: [0, 0, 0, 14] },
    data: ["Intrawell (In)", "Intrawell (out)", "Interwell", "Interwell chaos"],
  };
  const colsB = [["ω/3", "3ω/2"], ["ω/2", "2ω"], ["2ω/3", "3ω"], ["ω", "ω in chaos"]];
  const leftsB = [171, 261, 347, 438];
  const legendsB = colsB.map((names, i) => ({
    orient: "vertical", left: leftsB[i], top: 369, padding: 0, itemGap: 5, itemWidth: 10, itemHeight: 10,
    symbolKeepAspect: true, selectedMode: false, z: 20,
    textStyle: {
      ...legendText, lineHeight: 22, padding: [0, 0, 0, 7],
      rich: { i: { fontStyle: "italic", fontFamily: FONT, fontSize: 21, lineHeight: 22, color: "#000" } },
    },
    formatter: (name: string) => LEGEND_B_LABEL[name] || name,
    data: names.map((n) => (n === "3ω/2" || n === "2ω/3" ? { name: n, icon: DOWN_TRI } : { name: n })),
  }));

  const graphic: any[] = [
    // panel frames
    { type: "rect", silent: true, z: 0, shape: { x: 10.5, y: 3.5, width: 607, height: 336 }, style: { fill: "none", stroke: "#a0a0a0", lineWidth: 1.5 } },
    { type: "rect", silent: true, z: 0, shape: { x: 10.5, y: 350.5, width: 607, height: 1010 }, style: { fill: "none", stroke: "#a0a0a0", lineWidth: 1.5 } },
    // legend boxes (under the legends)
    { type: "rect", silent: true, z: 3, shape: { x: 106.5, y: 26.5, width: 179, height: 87 }, style: { fill: "#fff", stroke: "#000", lineWidth: 1 } },
    { type: "rect", silent: true, z: 3, shape: { x: 166.5, y: 358.5, width: 405, height: 67 }, style: { fill: "#fff", stroke: "#000", lineWidth: 1 } },
    // close the (a) frame where the y axis is offset
    ln(91.7, 278.3, 99.2, 278.3), ln(91.7, 19, 99.2, 19),
    // panel labels
    txt(16, 23, "(a)"), txt(20, 368, "(b)"),
    // (a) annotations
    txt(456, 68, "Period-3{i|T}"), ln(439, 62, 453, 66),
    txt(225, 227, "Period-2{i|T}"), ln(304, 231, 314, 243),
    txt(422, 227, "Period-2{i|T}"), ln(405, 227, 418, 223),
    // (b) annotations
    txt(221, 462, "Period-2{i|T}"), ln(307, 469, 324.5, 478),
    txt(432, 753, "Period-2{i|T}"), ln(414, 766, 429.5, 757),
    txt(250, 1092, "Period-3{i|T}"), ln(230, 1077, 248, 1088), ln(327, 1103, 342, 1109),
    // subplot labels
    txt(121, 683, "Intrawell (in)"), txt(121, 977, "Intrawell (out)"), txt(121, 1273, "Interwell"),
    // axis titles
    txt(355, 323, "{i|ω} [Hz]", 26, { align: "center", textAlign: "center" }),
    txt(346, 1336, "{i|ω} [Hz]", 26, { align: "center", textAlign: "center" }),
    yTitle(40, 152, "{t|T}{s|d}{r|_RMS}{n|  [-]}", TITLE_RICH_A),
    yTitle(48, 568, "{t|T}{s|d}{n| [-]}", TITLE_RICH_B),
    yTitle(48, 863, "{t|T}{s|d}{n| [-]}", TITLE_RICH_B),
    yTitle(48, 1160, "{t|T}{s|d}{n| [-]}", TITLE_RICH_B),
  ];

  return {
    animation: false,
    backgroundColor: "#fff",
    textStyle: { fontFamily: FONT },
    grid: grids,
    xAxis,
    yAxis,
    legend: [legendA, ...legendsB],
    series,
    graphic,
  };
}

export default function App() {
  const ref = useRef<HTMLDivElement>(null);
  useEffect(() => {
    if (!ref.current) return;
    const chart = echarts.init(ref.current, null, { renderer: "svg" });
    chart.setOption(buildOption() as any);
    return () => chart.dispose();
  }, []);
  return (
    <div
      ref={ref}
      style={{ position: "absolute", left: 0, top: 0, width: 620, height: 1350, background: "#fff" }}
    />
  );
}
